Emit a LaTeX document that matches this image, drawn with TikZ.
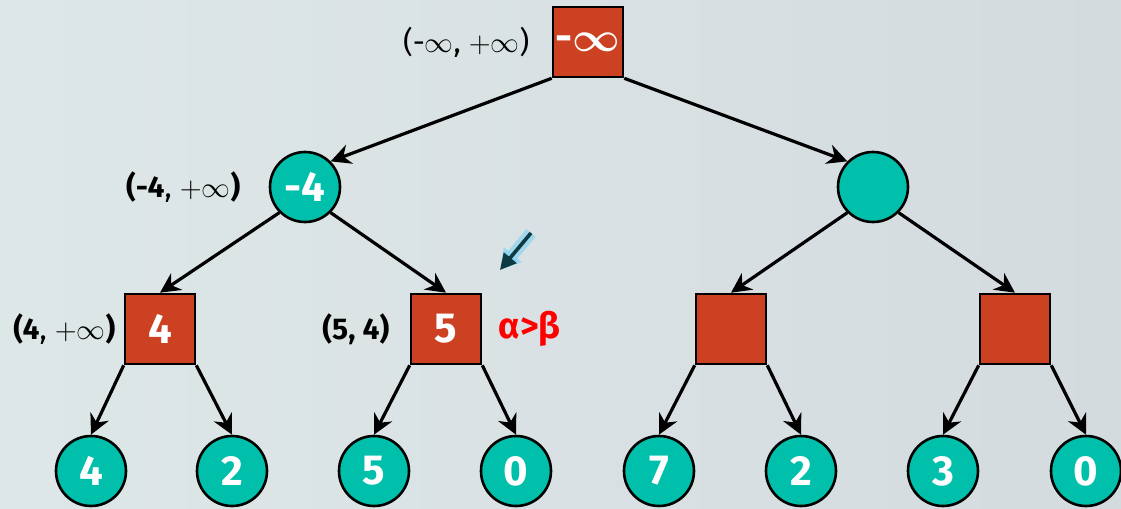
\documentclass[tikz,border=0pt]{standalone}
\usepackage{fontspec}
\setmainfont{Fira Sans}
\usetikzlibrary{arrows.meta,positioning}
\definecolor{sqred}{RGB}{205,65,35}
\definecolor{leafteal}{RGB}{0,192,172}
\definecolor{bgl}{RGB}{222,231,232}
\definecolor{bgr}{RGB}{212,219,223}
\definecolor{tipdark}{RGB}{14,58,68}
\begin{document}
\begin{tikzpicture}[x=0.5pt,y=-0.5pt,
mx/.style={draw,line width=1.3pt,fill=sqred,minimum size=35pt,inner sep=0pt,text=white,font=\fontsize{21}{24}\selectfont\bfseries},
mn/.style={circle,draw,line width=1.3pt,fill=leafteal,minimum size=35pt,inner sep=0pt,text=white,font=\fontsize{21}{24}\selectfont\bfseries},
lbl/.style={inner sep=0pt,font=\fontsize{15}{18}\selectfont},
arr/.style={-{Stealth[length=10pt,width=10pt]},line width=1.6pt}]
\shade[left color=bgl,right color=bgr](0,0)rectangle(1121,509);
\useasboundingbox(0,0)rectangle(1121,509);
% max / min nodes
\node[mx](r) at (588,42){-{\boldmath$\infty$}};
\node[mn](c1) at (305,187){-4};
\node[mn](c2) at (873,187){};
\node[mx](s1) at (160,329){4};
\node[mx](s2) at (446,329){5};
\node[mx](s3) at (731,329){};
\node[mx](s4) at (1015,329){};
% leaves
\node[mn](l1) at (91,471){4};
\node[mn](l2) at (232,471){2};
\node[mn](l3) at (374,471){5};
\node[mn](l4) at (516,471){0};
\node[mn](l5) at (659,471){7};
\node[mn](l6) at (801,471){2};
\node[mn](l7) at (943,471){3};
\node[mn](l8) at (1086,471){0};
% alpha beta labels
\node[lbl,left=11pt of r](lr){(-$\infty$, $+\infty$)};
\node[lbl,left=14pt of c1](lc1){\textbf{(-4}, $+\infty$\textbf{)}};
\node[lbl,left=4pt of s1](ls1){\textbf{(4}, $+\infty$\textbf{)}};
\node[lbl,left=10pt of s2](ls2){\textbf{(5, 4)}};
\node[lbl,right=8pt of s2,text=red,font=\fontsize{18}{22}\selectfont\bfseries](ab){α>β};
% edges
\draw[arr](r.south west)--(c1.north east);\draw[arr](r.south east)--(c2.north west);
\draw[arr](c1.south west)--(s1.north);\draw[arr](c1.south east)--(s2.north);
\draw[arr](c2.south west)--(s3.north);\draw[arr](c2.south east)--(s4.north);
\draw[arr](s1.south west)--(l1.north);\draw[arr](s1.south east)--(l2.north);
\draw[arr](s2.south west)--(l3.north);\draw[arr](s2.south east)--(l4.north);
\draw[arr](s3.south west)--(l5.north);\draw[arr](s3.south east)--(l6.north);
\draw[arr](s4.south west)--(l7.north);\draw[arr](s4.south east)--(l8.north);
% pointer
\coordinate(p1) at (531,233);\coordinate(p2) at (500,270);
\draw[-{Triangle[length=10pt,width=11pt]},line width=6pt,cyan!60,opacity=.5](p1)--(p2);
\draw[-{Triangle[length=8pt,width=8pt]},line width=1.8pt,tipdark](p1)--(p2);
\end{tikzpicture}
\end{document}
